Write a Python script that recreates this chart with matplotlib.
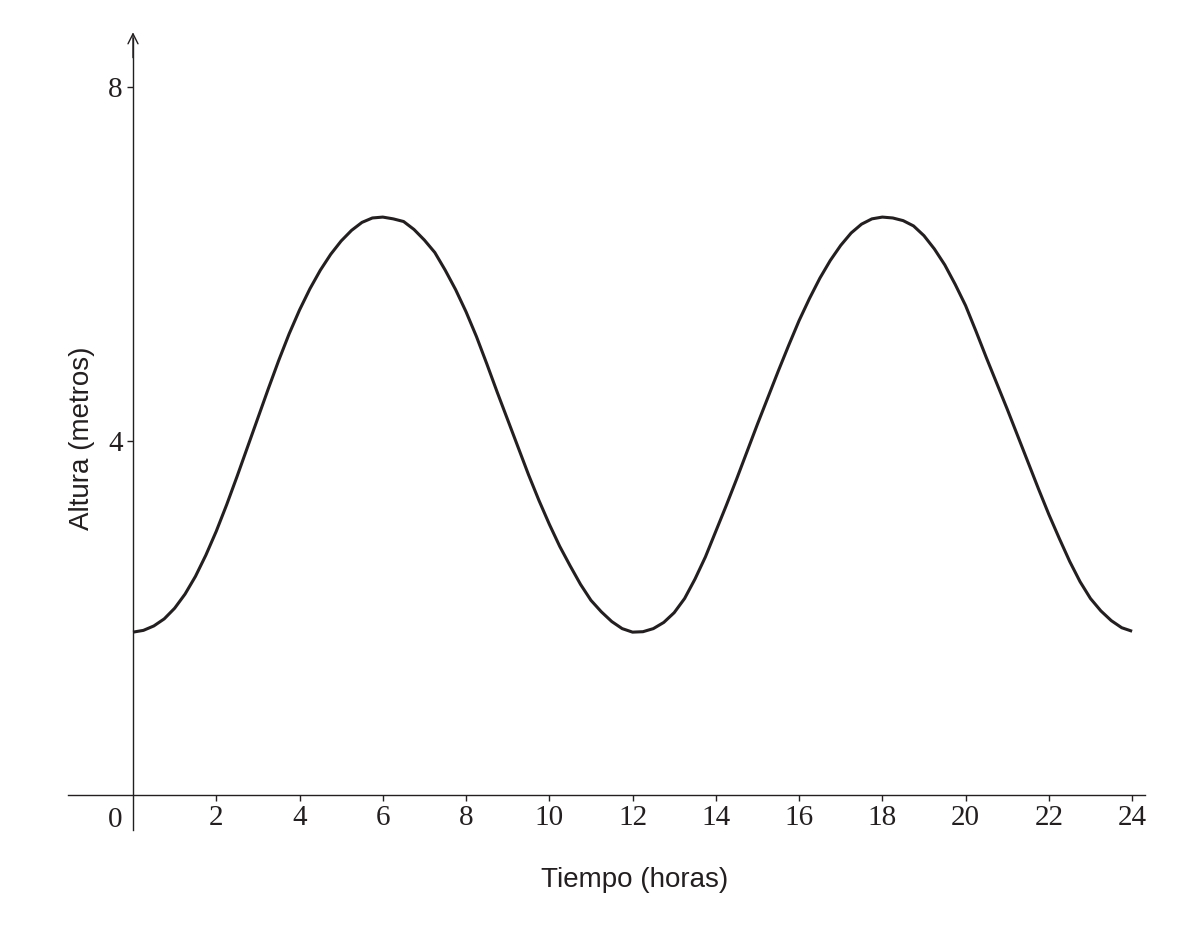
import matplotlib
matplotlib.use("Agg")
import matplotlib.pyplot as plt

# horas y altura (metros), cada cuarto de hora
horas = [i * 0.25 for i in range(97)]
altura = [
    # 0 - 6
    1.84, 1.86, 1.91, 1.99, 2.11, 2.27, 2.47, 2.71, 2.98, 3.28, 3.60, 3.93,
    4.26, 4.59, 4.91, 5.21, 5.48, 5.72, 5.93, 6.11, 6.26, 6.38, 6.47, 6.52,
    # 6 - 12
    6.53, 6.51, 6.48, 6.39, 6.27, 6.13, 5.93, 5.71, 5.46, 5.18, 4.87, 4.55,
    4.24, 3.93, 3.62, 3.33, 3.06, 2.81, 2.59, 2.38, 2.20, 2.07, 1.96, 1.88,
    # 12 - 18
    1.84, 1.845, 1.88, 1.95, 2.06, 2.22, 2.44, 2.69, 2.98, 3.27, 3.57, 3.88,
    4.19, 4.49, 4.79, 5.08, 5.36, 5.61, 5.84, 6.04, 6.21, 6.35, 6.45, 6.51,
    # 18 - 24
    6.53, 6.52, 6.49, 6.43, 6.32, 6.17, 5.99, 5.77, 5.53, 5.24, 4.94, 4.65,
    4.36, 4.06, 3.76, 3.46, 3.17, 2.90, 2.64, 2.41, 2.22, 2.08, 1.97, 1.89,
    1.85,
]

xticks = [2, 4, 6, 8, 10, 12, 14, 16, 18, 20, 22, 24]
yticks = [4, 8]

tinta = "#231f20"

fig = plt.figure(figsize=(12.01, 9.31), dpi=100)
ax = fig.add_axes([0, 0, 1, 1])
ax.set_xlim(-3.195, 25.655)
ax.set_ylim(-1.537, 8.983)

ax.plot(horas, altura, color=tinta, linewidth=2.2, solid_capstyle="butt")

# ejes cruzando en el origen
for s in ["top", "right"]:
    ax.spines[s].set_visible(False)
ax.spines["left"].set_position(("data", 0))
ax.spines["bottom"].set_position(("data", 0))
ax.spines["left"].set_bounds(-0.4, 8.55)
ax.spines["bottom"].set_bounds(-1.56, 24.3)
for s in ["left", "bottom"]:
    ax.spines[s].set_color(tinta)
    ax.spines[s].set_linewidth(1.0)

ax.annotate("", xy=(0, 8.65), xytext=(0, 8.3),
            arrowprops=dict(arrowstyle="->", color=tinta, lw=1.0,
                            mutation_scale=18))

ax.set_xticks(xticks)
ax.set_xticklabels([str(v) for v in xticks])
ax.set_yticks(yticks)
ax.set_yticklabels([str(v) for v in yticks])
ax.tick_params(axis="both", direction="out", length=4.3, width=1.0,
               color=tinta, labelcolor=tinta, labelsize=21)
ax.tick_params(axis="x", pad=3)
ax.tick_params(axis="y", pad=3)
for lab in ax.get_xticklabels() + ax.get_yticklabels():
    lab.set_family("Liberation Serif")

ax.annotate("0", xy=(0, 0), xytext=(-8, -8.6), textcoords="offset points",
            ha="right", va="top", fontsize=21, color=tinta,
            family="Liberation Serif")

fig.text(0.528, 0.055, "Tiempo (horas)", ha="center", va="center",
         fontsize=20, color=tinta, family="Liberation Sans")
fig.text(0.068, 0.529, "Altura (metros)", ha="center", va="center",
         rotation=90, fontsize=20, color=tinta, family="Liberation Sans")

fig.savefig("out.png", dpi=100, facecolor="white")
